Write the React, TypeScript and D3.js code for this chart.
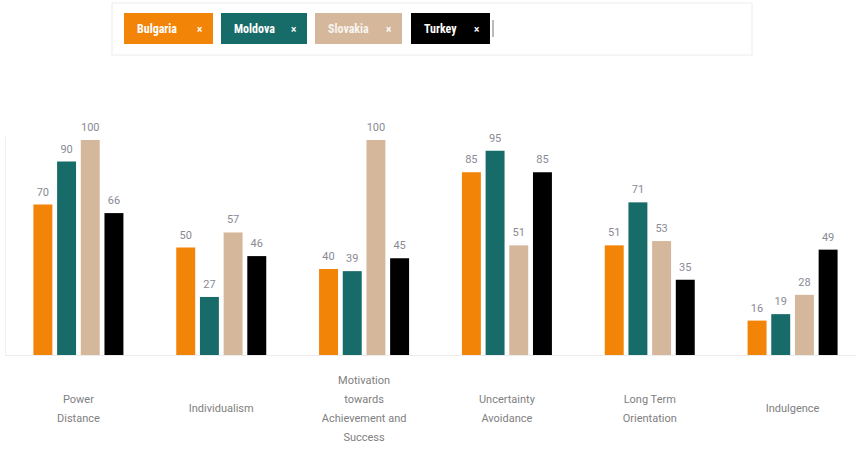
import React from "react";
import * as d3 from "d3";

const categories = [
  ["Power", "Distance"],
  ["Individualism"],
  ["Motivation", "towards", "Achievement and", "Success"],
  ["Uncertainty", "Avoidance"],
  ["Long Term", "Orientation"],
  ["Indulgence"],
];
const countries = ["Bulgaria", "Moldova", "Slovakia", "Turkey"];
const colors = ["#f28407", "#176b68", "#d5b89b", "#000000"];
const bulgaria = [70, 50, 40, 85, 51, 16];
const moldova = [90, 27, 39, 95, 71, 19];
const slovakia = [100, 57, 100, 51, 53, 28];
const turkey = [66, 46, 45, 85, 35, 49];
const series = [bulgaria, moldova, slovakia, turkey];

const W = 856;
const H = 449;
const baseY = 355;
const topY = 140;

export default function App() {
  const x0 = d3
    .scaleBand<number>()
    .domain(d3.range(categories.length))
    .range([7, 864])
    .paddingInner(0)
    .paddingOuter(0);
  const inner = d3
    .scaleBand<number>()
    .domain(d3.range(countries.length))
    .range([x0.bandwidth() / 2 - 45, x0.bandwidth() / 2 + 45])
    .paddingInner(0.2)
    .paddingOuter(0);
  const y = d3.scaleLinear().domain([0, 100]).range([baseY, topY]);

  const chipX = [124, 221, 315, 411];
  const chipW = [89, 86, 87, 79];
  const labelFont = "Roboto, 'Noto Sans', sans-serif";

  return (
    <svg
      width={W}
      height={H}
      style={{ position: "absolute", left: 0, top: 0, background: "#fff" }}
    >
      {/* country selector */}
      <rect x={112} y={3} width={640} height={52} fill="#fff" stroke="#ececec" />
      {countries.map((c, i) => (
        <g key={c} transform={`translate(${chipX[i]},13)`}>
          <rect width={chipW[i]} height={31} fill={colors[i]} />
          <text
            x={13}
            y={20}
            fill="#fff"
            fontFamily="'Liberation Sans Narrow', 'Roboto Condensed', Roboto, sans-serif"
            fontWeight={700}
            fontSize={12}
            opacity={i === 2 ? 0.85 : 1}
          >
            {c}
          </text>
          <text
            x={chipW[i] - 16}
            y={20}
            fill="#fff"
            fontFamily={labelFont}
            fontSize={10}
            fontWeight={700}
          >
            ×
          </text>
        </g>
      ))}
      <line x1={493} x2={493} y1={20} y2={37} stroke="#777" strokeWidth={1} />

      {/* axes */}
      <line x1={5} x2={W} y1={baseY + 0.5} y2={baseY + 0.5} stroke="#ececec" />
      <line x1={5.5} x2={5.5} y1={137} y2={baseY} stroke="#f0f0f0" />

      {/* bars */}
      {categories.map((cat, ci) => (
        <g key={ci} transform={`translate(${x0(ci)},0)`}>
          {series.map((s, si) => {
            const v = s[ci];
            const bx = inner(si)!;
            return (
              <g key={si}>
                <rect
                  x={bx}
                  y={y(v)}
                  width={inner.bandwidth()}
                  height={baseY - y(v)}
                  fill={colors[si]}
                />
                <text
                  x={bx + inner.bandwidth() / 2}
                  y={y(v) - 9}
                  textAnchor="middle"
                  fill="#8a8a94"
                  fontFamily={labelFont}
                  fontSize={11}
                >
                  {v}
                </text>
              </g>
            );
          })}
          <text
            x={x0.bandwidth() / 2}
            textAnchor="middle"
            fill="#808080"
            fontFamily={labelFont}
            fontSize={11}
          >
            {cat.map((line, li) => (
              <tspan
                key={li}
                x={x0.bandwidth() / 2}
                y={408 + 4 + (li - (cat.length - 1) / 2) * 19}
              >
                {line}
              </tspan>
            ))}
          </text>
        </g>
      ))}
    </svg>
  );
}
